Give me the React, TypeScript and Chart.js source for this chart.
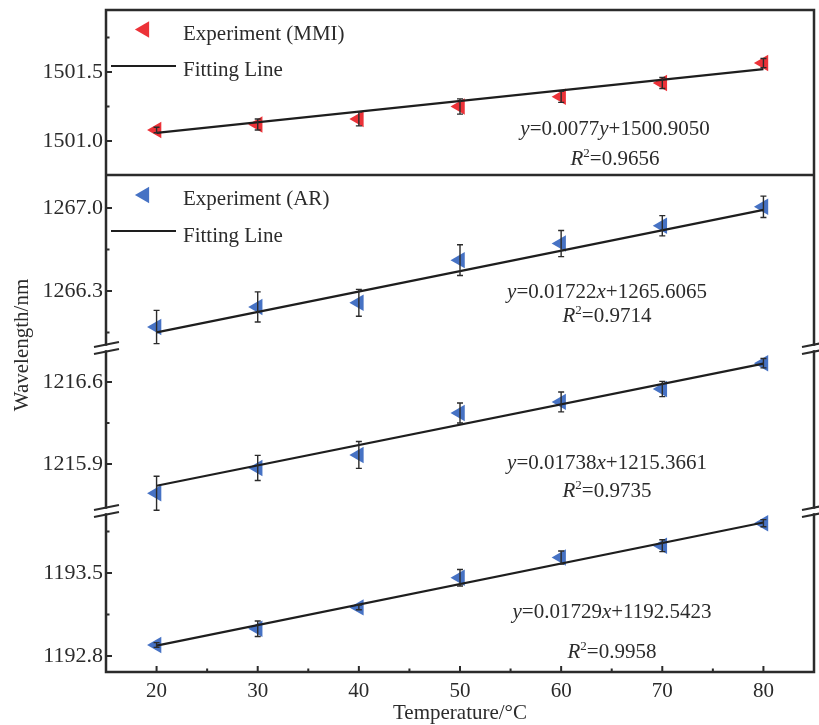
import React, { useEffect, useRef } from 'react';
import { Chart, registerables } from 'chart.js';
Chart.register(...registerables);

// ---------- data ----------
const temperatures = [20, 30, 40, 50, 60, 70, 80];
const xTicks = [20, 30, 40, 50, 60, 70, 80];
const xMinorTicks = [25, 35, 45, 55, 65, 75];

const mmiValues = [1501.08, 1501.12, 1501.16, 1501.25, 1501.32, 1501.42, 1501.565];
const mmiErrors = [0.02, 0.04, 0.05, 0.055, 0.04, 0.04, 0.033];
const ar1Values = [1265.996, 1266.165, 1266.2, 1266.56, 1266.7, 1266.85, 1267.01];
const ar1Errors = [0.14, 0.127, 0.113, 0.13, 0.11, 0.085, 0.09];
const ar2Values = [1215.65, 1215.866, 1215.977, 1216.335, 1216.43, 1216.54, 1216.76];
const ar2Errors = [0.145, 0.107, 0.115, 0.085, 0.085, 0.065, 0.04];
const ar3Values = [1192.893, 1193.03, 1193.21, 1193.46, 1193.63, 1193.73, 1193.92];
const ar3Errors = [0.02, 0.065, 0.02, 0.07, 0.055, 0.05, 0.03];

const fitX = [20, 80];
const mmiFit = [1501.059, 1501.521];
const ar1Fit = [1265.951, 1266.984];
const ar2Fit = [1215.714, 1216.756];
const ar3Fit = [1192.888, 1193.926];

const mmiTicks = [1501.0, 1501.5];
const mmiMinorTicks = [1501.25, 1501.75];
const ar1Ticks = [1266.3, 1267.0];
const ar1MinorTicks = [1265.95, 1266.65];
const ar2Ticks = [1215.9, 1216.6];
const ar2MinorTicks = [1216.25];
const ar3Ticks = [1192.8, 1193.5];
const ar3MinorTicks = [1193.15, 1193.85];

const mmiRange = [1500.754, 1501.949];
const ar1Range = [1265.819, 1267.278];
const ar2Range = [1215.4985, 1216.89];
const ar3Range = [1192.665, 1194.023];

const mmiEquation = 'y=0.0077y+1500.9050';
const mmiR2 = '0.9656';
const ar1Equation = 'y=0.01722x+1265.6065';
const ar1R2 = '0.9714';
const ar2Equation = 'y=0.01738x+1215.3661';
const ar2R2 = '0.9735';
const ar3Equation = 'y=0.01729x+1192.5423';
const ar3R2 = '0.9958';

const mmiLabel = 'Experiment (MMI)';
const arLabel = 'Experiment (AR)';
const fitLabel = 'Fitting Line';
const xTitle = 'Temperature/°C';
const yTitle = 'Wavelength/nm';

// ---------- styles ----------
const RED = 'rgb(236,50,56)';
const BLUE = 'rgb(70,114,196)';
const INK = '#2b2b2b';
const FONT = '"Liberation Serif", "Times New Roman", serif';

const series = [
  { axis: 'y0', values: mmiValues, errors: mmiErrors, fit: mmiFit, color: RED, ticks: mmiTicks, minor: mmiMinorTicks, range: mmiRange, eq: mmiEquation, r2: mmiR2 },
  { axis: 'y1', values: ar1Values, errors: ar1Errors, fit: ar1Fit, color: BLUE, ticks: ar1Ticks, minor: ar1MinorTicks, range: ar1Range, eq: ar1Equation, r2: ar1R2 },
  { axis: 'y2', values: ar2Values, errors: ar2Errors, fit: ar2Fit, color: BLUE, ticks: ar2Ticks, minor: ar2MinorTicks, range: ar2Range, eq: ar2Equation, r2: ar2R2 },
  { axis: 'y3', values: ar3Values, errors: ar3Errors, fit: ar3Fit, color: BLUE, ticks: ar3Ticks, minor: ar3MinorTicks, range: ar3Range, eq: ar3Equation, r2: ar3R2 },
];
const stackWeights = [165, 173, 163, 161];
// equation placement [centerX, eqBaseline, r2Baseline]
const eqPlacement = [
  [615, 135, 165],
  [607, 298, 322],
  [607, 469, 497],
  [612, 618, 658],
];

function drawRich(ctx: CanvasRenderingContext2D, parts: { t: string; it?: boolean; sup?: boolean }[], cx: number, baseline: number, size: number) {
  const fontFor = (p: any) => `${p.it ? 'italic ' : ''}${p.sup ? Math.round(size * 0.62) : size}px ${FONT}`;
  let total = 0;
  for (const p of parts) {
    ctx.font = fontFor(p);
    total += ctx.measureText(p.t).width;
  }
  let x = cx - total / 2;
  ctx.textAlign = 'left';
  ctx.textBaseline = 'alphabetic';
  for (const p of parts) {
    ctx.font = fontFor(p);
    ctx.fillText(p.t, x, p.sup ? baseline - size * 0.38 : baseline);
    x += ctx.measureText(p.t).width;
  }
}

function eqParts(s: string) {
  const parts: { t: string; it?: boolean }[] = [];
  for (const ch of s) {
    const it = ch === 'x' || ch === 'y';
    const last = parts[parts.length - 1];
    if (last && !!last.it === it) last.t += ch;
    else parts.push({ t: ch, it });
  }
  return parts;
}

function triangle(ctx: CanvasRenderingContext2D, cx: number, cy: number, r: number, color: string) {
  ctx.beginPath();
  ctx.moveTo(cx - r, cy);
  ctx.lineTo(cx + r / 2, cy - 0.866 * r);
  ctx.lineTo(cx + r / 2, cy + 0.866 * r);
  ctx.closePath();
  ctx.fillStyle = color;
  ctx.fill();
}

const decorations = {
  id: 'decorations',
  afterDatasetsDraw(chart: any) {
    const { ctx, scales } = chart;
    const xs = scales.x;
    ctx.save();
    ctx.strokeStyle = INK;
    ctx.lineWidth = 1.4;
    for (const s of series) {
      const ys = scales[s.axis];
      temperatures.forEach((t, i) => {
        const x = xs.getPixelForValue(t);
        const y1 = ys.getPixelForValue(s.values[i] + s.errors[i]);
        const y2 = ys.getPixelForValue(s.values[i] - s.errors[i]);
        ctx.beginPath();
        ctx.moveTo(x, y1); ctx.lineTo(x, y2);
        ctx.moveTo(x - 3, y1); ctx.lineTo(x + 3, y1);
        ctx.moveTo(x - 3, y2); ctx.lineTo(x + 3, y2);
        ctx.stroke();
      });
    }
    ctx.restore();
  },
  afterDraw(chart: any) {
    const { ctx, chartArea: ca, scales } = chart;
    const xs = scales.x;
    const L = ca.left, R = ca.right, T = ca.top, B = ca.bottom;
    const b1 = scales.y1.bottom;
    const b2 = scales.y2.bottom;
    const mid = scales.y0.bottom;
    ctx.save();
    ctx.strokeStyle = INK;
    ctx.lineCap = 'square';
    ctx.lineWidth = 2.5;
    ctx.beginPath();
    ctx.moveTo(L, T); ctx.lineTo(R, T);
    ctx.moveTo(L, mid); ctx.lineTo(R, mid);
    ctx.moveTo(L, B); ctx.lineTo(R, B);
    for (const X of [L, R]) {
      ctx.moveTo(X, T); ctx.lineTo(X, b1 - 3.5);
      ctx.moveTo(X, b1 + 3.5); ctx.lineTo(X, b2 - 3.5);
      ctx.moveTo(X, b2 + 3.5); ctx.lineTo(X, B);
    }
    ctx.stroke();
    // break marks
    ctx.lineCap = 'butt';
    ctx.lineWidth = 2.2;
    ctx.beginPath();
    for (const X of [L, R]) {
      for (const b of [b1, b2]) {
        for (const d of [-3.5, 3.5]) {
          ctx.moveTo(X - 12, b + d + 2.5);
          ctx.lineTo(X + 13, b + d - 2.5);
        }
      }
    }
    ctx.stroke();
    // ticks (inward)
    ctx.lineWidth = 2;
    ctx.beginPath();
    for (const s of series) {
      const ys = scales[s.axis];
      for (const v of s.ticks) { const y = ys.getPixelForValue(v); ctx.moveTo(L, y); ctx.lineTo(L + 6, y); }
      for (const v of s.minor) { const y = ys.getPixelForValue(v); ctx.moveTo(L, y); ctx.lineTo(L + 3.5, y); }
    }
    for (const v of xTicks) { const x = xs.getPixelForValue(v); ctx.moveTo(x, B); ctx.lineTo(x, B - 6); }
    for (const v of xMinorTicks) { const x = xs.getPixelForValue(v); ctx.moveTo(x, B); ctx.lineTo(x, B - 3.5); }
    ctx.stroke();

    // legends
    ctx.font = `21px ${FONT}`;
    ctx.textAlign = 'left';
    ctx.textBaseline = 'alphabetic';
    triangle(ctx, 144.4, 29.5, 9.5, RED);
    triangle(ctx, 144.4, 195, 9.5, BLUE);
    ctx.fillStyle = INK;
    ctx.fillText(mmiLabel, 183, 40);
    ctx.fillText(fitLabel, 183, 76);
    ctx.fillText(arLabel, 183, 205);
    ctx.fillText(fitLabel, 183, 242);
    ctx.strokeStyle = '#1e1e1e';
    ctx.lineWidth = 2.2;
    ctx.beginPath();
    ctx.moveTo(111, 66); ctx.lineTo(176, 66);
    ctx.moveTo(111, 231); ctx.lineTo(176, 231);
    ctx.stroke();

    // equations
    ctx.fillStyle = INK;
    series.forEach((s, i) => {
      const [cx, eb, rb] = eqPlacement[i];
      drawRich(ctx, eqParts(s.eq), cx, eb, 21);
      drawRich(ctx, [{ t: 'R', it: true }, { t: '2', sup: true }, { t: '=' + s.r2 }], cx, rb, 21);
    });

    // axis titles
    ctx.font = `21px ${FONT}`;
    ctx.textAlign = 'center';
    ctx.textBaseline = 'middle';
    ctx.fillText(xTitle, 460, 713);
    ctx.save();
    ctx.translate(22, 345);
    ctx.rotate(-Math.PI / 2);
    ctx.fillText(yTitle, 0, 0);
    ctx.restore();
    ctx.restore();
  },
};

export default function App() {
  const ref = useRef<HTMLCanvasElement | null>(null);
  useEffect(() => {
    if (!ref.current) return;
    const datasets: any[] = [];
    series.forEach((s) => {
      datasets.push({
        type: 'line',
        label: 'fit-' + s.axis,
        data: fitX.map((x, i) => ({ x, y: s.fit[i] })),
        yAxisID: s.axis,
        borderColor: '#1e1e1e',
        borderWidth: 2.2,
        pointRadius: 0,
        fill: false,
        order: 1,
      });
    });
    series.forEach((s) => {
      datasets.push({
        type: 'scatter',
        label: 'exp-' + s.axis,
        data: temperatures.map((x, i) => ({ x, y: s.values[i] })),
        yAxisID: s.axis,
        pointStyle: 'triangle',
        rotation: 270,
        pointRadius: 9.5,
        pointHoverRadius: 9.5,
        pointBorderWidth: 0,
        borderWidth: 0,
        backgroundColor: s.color,
        pointBackgroundColor: s.color,
        order: 2,
      });
    });
    const zeroPad = (sc: any) => {
      sc.paddingTop = 0; sc.paddingBottom = 0; sc.paddingLeft = 0; sc.paddingRight = 0;
    };
    const scales: any = {
      x: {
        type: 'linear',
        min: 15,
        max: 85,
        grid: { display: false, drawTicks: false },
        border: { display: false },
        ticks: { font: { family: FONT, size: 21 }, color: INK, padding: 7, callback: (v: any) => String(v) },
        afterBuildTicks: (sc: any) => { sc.ticks = xTicks.map((v) => ({ value: v })); },
        afterFit: (sc: any) => { sc.height = 53; zeroPad(sc); },
      },
    };
    series.forEach((s, i) => {
      scales[s.axis] = {
        type: 'linear',
        position: 'left',
        stack: 'wl',
        stackWeight: stackWeights[i],
        weight: 10 - i,
        min: s.range[0],
        max: s.range[1],
        grid: { display: false, drawTicks: false },
        border: { display: false },
        ticks: { font: { family: FONT, size: 22 }, color: INK, padding: 3, callback: (v: any) => Number(v).toFixed(1) },
        afterBuildTicks: (sc: any) => { sc.ticks = s.ticks.map((v) => ({ value: v })); },
        afterFit: (sc: any) => { sc.width = 106; zeroPad(sc); },
      };
    });
    const chart = new Chart(ref.current, {
      type: 'scatter',
      data: { datasets },
      options: {
        responsive: false,
        animation: false,
        devicePixelRatio: 1,
        layout: { padding: { top: 10, right: 5, left: 0, bottom: 0 }, autoPadding: false },
        plugins: { legend: { display: false }, tooltip: { enabled: false } },
        events: [],
        scales,
      },
      plugins: [decorations],
    } as any);
    return () => chart.destroy();
  }, []);
  return (
    <div style={{ position: 'fixed', left: 0, top: 0, width: 819, height: 725, background: '#fff' }}>
      <canvas ref={ref} width={819} height={725} style={{ display: 'block', width: 819, height: 725 }} />
    </div>
  );
}
